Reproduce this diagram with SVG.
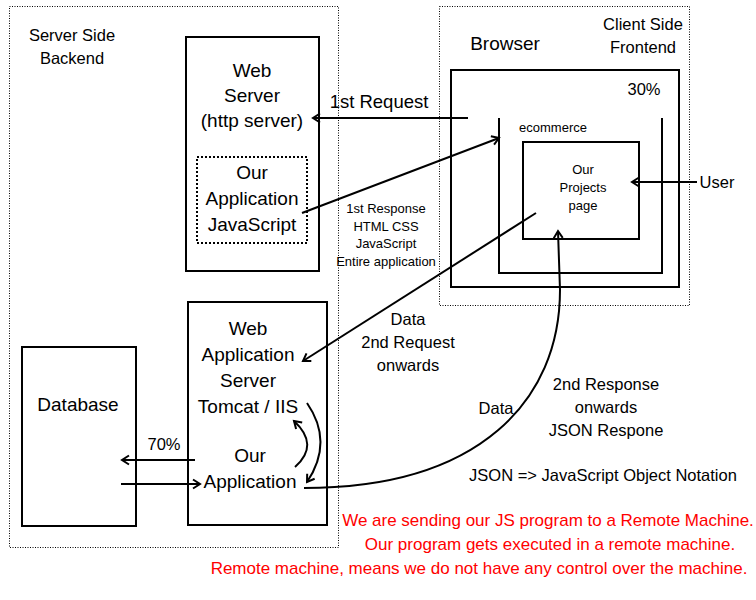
<svg xmlns="http://www.w3.org/2000/svg" width="756" height="600" viewBox="0 0 756 600">
<style>
text{font-family:"Liberation Sans",Arial,sans-serif;fill:#000;text-anchor:middle}
.box{fill:none;stroke:#000;stroke-width:2}
.zone{fill:none;stroke:#000;stroke-width:1;stroke-dasharray:1 1.5}
.dot2{fill:none;stroke:#000;stroke-width:2;stroke-dasharray:2 2}
.ln{fill:none;stroke:#000;stroke-width:2;marker-end:url(#ah)}
.t19{font-size:19px}
.t16{font-size:16.5px}
.t13{font-size:13px}
.red{fill:#ff0000;font-size:17px}
</style>
<defs>
<marker id="ah" markerUnits="userSpaceOnUse" markerWidth="12" markerHeight="12" viewBox="0 0 12 12" refX="9" refY="6" orient="auto">
<path d="M2,1.5 L9,6 L2,10.5" fill="none" stroke="#000" stroke-width="2"/>
</marker>
</defs>
<rect width="756" height="600" fill="#fff"/>

<g id="server-side">
<rect class="zone" x="9.5" y="6.5" width="329" height="541"/>
<text class="t16" x="72" y="41">Server Side</text>
<text class="t16" x="72" y="64">Backend</text>
</g>

<g id="client-side">
<rect class="zone" x="439.5" y="6.5" width="250" height="299"/>
<text class="t16" x="643" y="30">Client Side</text>
<text class="t16" x="643" y="53">Frontend</text>
</g>

<g id="web-server">
<rect class="box" x="186" y="37" width="133" height="234"/>
<text class="t19" x="252" y="77">Web</text>
<text class="t19" x="252" y="102">Server</text>
<text class="t19" x="252" y="127">(http server)</text>
</g>

<g id="our-app-js">
<rect class="dot2" x="197" y="157" width="110" height="86"/>
<text class="t19" x="252" y="179">Our</text>
<text class="t19" x="252" y="205">Application</text>
<text class="t19" x="252" y="231">JavaScript</text>
</g>

<g id="browser">
<text class="t19" x="505" y="50">Browser</text>
<rect class="box" x="451" y="70" width="228" height="217"/>
<text class="t16" x="644" y="95">30%</text>
</g>

<g id="ecommerce">
<path class="box" d="M499,118 V273 H662 V118"/>
<text class="t13" x="553" y="132">ecommerce</text>
</g>

<g id="projects-page">
<rect class="box" x="523" y="142" width="116" height="97"/>
<text class="t13" x="583" y="174">Our</text>
<text class="t13" x="583" y="192">Projects</text>
<text class="t13" x="583" y="210">page</text>
</g>

<g id="user">
<text class="t16" x="717" y="188">User</text>
</g>

<g id="web-app-server">
<rect class="box" x="188" y="302" width="139" height="223"/>
<text class="t19" x="248" y="335">Web</text>
<text class="t19" x="248" y="361">Application</text>
<text class="t19" x="248" y="387">Server</text>
<text class="t19" x="248" y="413">Tomcat / IIS</text>
<text class="t19" x="250" y="462">Our</text>
<text class="t19" x="250" y="488">Application</text>
</g>

<g id="database">
<rect class="box" x="22" y="347" width="114" height="179"/>
<text class="t19" x="78" y="411">Database</text>
</g>

<g id="connectors">
<line class="ln" x1="468" y1="118" x2="313" y2="118"/>
<line class="ln" x1="302" y1="213" x2="499" y2="138"/>
<line class="ln" x1="697" y1="182" x2="632" y2="182"/>
<line class="ln" x1="536" y1="213" x2="303" y2="361"/>
<line class="ln" x1="195" y1="460" x2="122" y2="460"/>
<line class="ln" x1="121" y1="484" x2="200" y2="484"/>
<path class="ln" d="M295,467 Q320,445 294,421"/>
<path class="ln" d="M307,403 Q334,442 307,482"/>
<path class="ln" d="M304,488 C480,488 560,400 560,290 L558,231"/>
</g>

<g id="labels">
<text style="font-size:18.5px" x="379" y="108">1st Request</text>
<text class="t13" x="386" y="213">1st Response</text>
<text class="t13" x="386" y="231">HTML CSS</text>
<text class="t13" x="386" y="248">JavaScript</text>
<text class="t13" x="386" y="266">Entire application</text>
<text class="t16" x="408" y="325">Data</text>
<text class="t16" x="408" y="348">2nd Request</text>
<text class="t16" x="408" y="371">onwards</text>
<text class="t16" x="496" y="414">Data</text>
<text class="t16" x="606" y="390">2nd Response</text>
<text class="t16" x="606" y="413">onwards</text>
<text class="t16" x="606" y="436">JSON Respone</text>
<text class="t16" x="603" y="481">JSON =&gt; JavaScript Object Notation</text>
<text class="t16" x="164" y="450">70%</text>
<text class="red" x="548" y="526">We are sending our JS program to a Remote Machine.</text>
<text class="red" x="550" y="550">Our program gets executed in a remote machine.</text>
<text class="red" x="479" y="574">Remote machine, means we do not have any control over the machine.</text>
</g>
</svg>
